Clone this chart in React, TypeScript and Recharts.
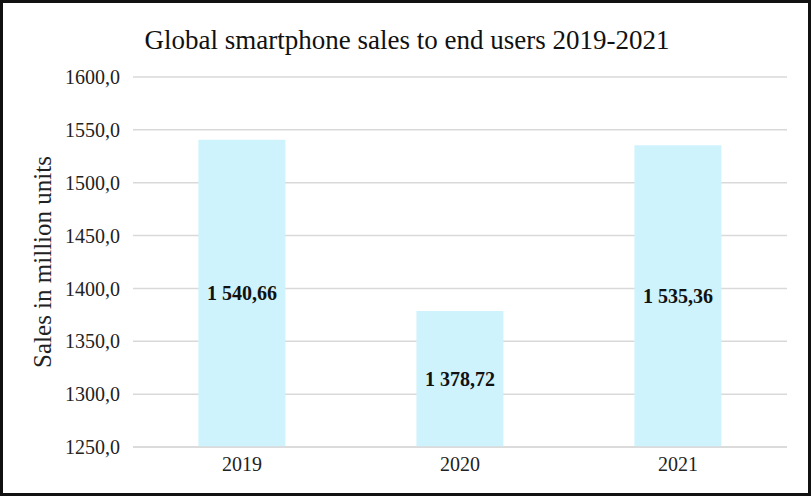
import { BarChart, Bar, XAxis, YAxis, CartesianGrid, LabelList } from 'recharts'

const years = ['2019', '2020', '2021']
const sales = [1540.66, 1378.72, 1535.36]
const yTicks = [1250, 1300, 1350, 1400, 1450, 1500, 1550, 1600]

const data = years.map((year, i) => ({ year, sales: sales[i] }))

const FONT = '"Liberation Serif", "Times New Roman", serif'

function tickFmt(v: number): string {
  return v.toFixed(1).replace('.', ',')
}

function labelFmt(v: any): string {
  const [int, dec] = Number(v).toFixed(2).split('.')
  return int.replace(/\B(?=(\d{3})+(?!\d))/g, ' ') + ',' + dec
}

export default function App() {
  return (
    <div style={{ position: 'absolute', left: 0, top: 0, width: 811, height: 496, background: '#fff', fontFamily: FONT }}>
      <div
        style={{
          position: 'absolute',
          left: 0,
          top: 0,
          width: 811,
          height: 496,
          boxSizing: 'border-box',
          border: '3px solid #111',
          pointerEvents: 'none',
          zIndex: 2,
        }}
      />
      <div
        style={{
          position: 'absolute',
          left: 0,
          top: 23,
          width: 814,
          textAlign: 'center',
          fontSize: 27,
          color: '#111',
          lineHeight: '34px',
        }}
      >
        Global smartphone sales to end users 2019-2021
      </div>
      <div style={{ position: 'absolute', left: 0, top: 0 }}>
        <BarChart
          width={811}
          height={496}
          data={data}
          margin={{ top: 77, right: 24, bottom: 0, left: 0 }}
          barCategoryGap="30%"
        >
          <CartesianGrid vertical={false} stroke="#d9d9d9" strokeWidth={1.5} />
          <XAxis
            dataKey="year"
            height={49}
            axisLine={{ stroke: '#d9d9d9', strokeWidth: 1.5 }}
            tickLine={false}
            tickMargin={4}
            tick={{ fill: '#222', fontSize: 20, fontFamily: FONT }}
          />
          <YAxis
            width={133}
            domain={[1250, 1600]}
            ticks={yTicks}
            interval={0}
            axisLine={false}
            tickLine={false}
            tickMargin={7}
            tickFormatter={tickFmt}
            tick={{ fill: '#222', fontSize: 20, fontFamily: FONT }}
            label={{
              value: 'Sales in million units',
              angle: -90,
              position: 'insideLeft',
              offset: 0,
              dx: 42,
              style: { textAnchor: 'middle', fill: '#222', fontSize: 25, fontFamily: FONT },
            }}
          />
          <Bar dataKey="sales" fill="#cff3fc" isAnimationActive={false}>
            <LabelList
              dataKey="sales"
              position="center"
              formatter={labelFmt}
              style={{ fill: '#111', fontSize: 20, fontWeight: 'bold', fontFamily: FONT }}
            />
          </Bar>
        </BarChart>
      </div>
    </div>
  )
}
